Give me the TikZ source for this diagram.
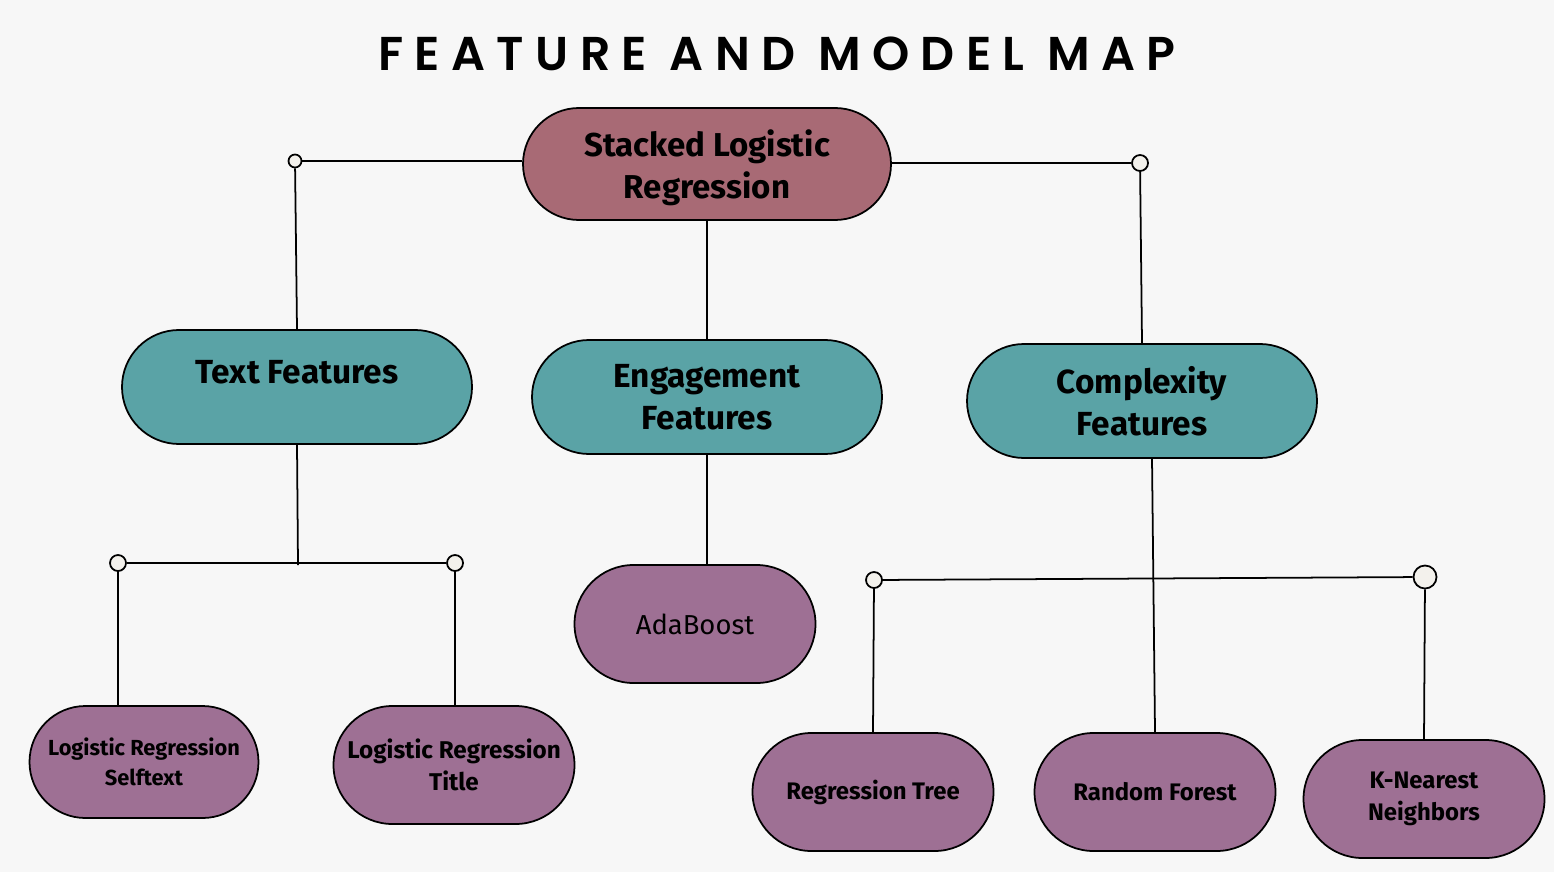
\documentclass[tikz,border=0pt]{standalone}
\usepackage{fontspec}
\setmainfont{Fira Sans}
\newfontfamily\titlefont[LetterSpace=24]{Poppins SemiBold}
\usetikzlibrary{positioning}
\definecolor{cbg}{HTML}{F7F7F7}
\definecolor{crose}{HTML}{A86A75}
\definecolor{cteal}{HTML}{5AA3A6}
\definecolor{cplum}{HTML}{9E7094}
\definecolor{cdot}{HTML}{F3F1EC}
\tikzset{
  every picture/.style={line width=0.5pt},
  pill/.style={draw=black, fill=#1, rounded corners=0.57cm, align=center, inner sep=0pt,
    minimum width=3.5cm, minimum height=1.14cm, font=\fontsize{9.5}{12}\selectfont\bfseries},
  leaf/.style={pill=cplum, rounded corners=0.59cm, minimum width=2.41cm, minimum height=1.18cm,
    font=\fontsize{6.8}{9}\selectfont\bfseries},
  dot/.style={circle, draw=black, fill=cdot, inner sep=0pt, minimum size=#1},
  dot/.default=0.16cm,
  title/.style={font=\titlefont\fontsize{13.5}{16}\selectfont},
}
\begin{document}
\begin{tikzpicture}
  \fill[cbg] (0,0) rectangle (15.54,-8.72);
  \useasboundingbox (0,0) rectangle (15.54,-8.72);
  \node[title] (head) at (7.77,-0.54) {FEATURE AND MODEL MAP};
  % top level
  \node[pill=crose, minimum width=3.68cm, minimum height=1.12cm, rounded corners=0.56cm, text depth=-0.1cm, font=\fontsize{9.4}{12}\selectfont\bfseries] (slr) at (7.07,-1.64) {Stacked Logistic\\Regression};
  \node[pill=cteal, text depth=0.3cm] (text) at (2.97,-3.87) {Text Features};
  \node[pill=cteal] (eng) at (7.07,-3.97) {Engagement\\Features};
  \node[pill=cteal, text depth=-0.08cm] (comp) at (11.42,-4.01) {Complexity\\Features};
  % models
  \node[leaf, minimum width=2.29cm, minimum height=1.12cm, rounded corners=0.56cm, font=\fontsize{6.2}{8.4}\selectfont\bfseries] (lrs) at (1.44,-7.62) {Logistic Regression\\Selftext};
  \node[leaf, font=\fontsize{6.9}{9}\selectfont\bfseries] (lrt) at (4.54,-7.65) {Logistic Regression\\Title};
  \node[leaf, font=\fontsize{7.8}{10}\selectfont] (ada) at (6.95,-6.24) {AdaBoost};
  \node[leaf] (rt) at (8.73,-7.92) {Regression Tree};
  \node[leaf] (rf) at (11.55,-7.92) {Random Forest};
  \node[leaf] (knn) at (14.24,-7.99) {K-Nearest\\Neighbors};
  % junction dots
  \node[dot=0.13cm] (dl) at (2.95,-1.61) {};
  \node[dot] (dr) at (11.40,-1.63) {};
  \node[dot] (dtl) at (1.18,-5.63) {};
  \node[dot] (dtr) at (4.55,-5.63) {};
  \node[dot] (dcl) at (8.74,-5.80) {};
  \node[dot=0.23cm] (dcr) at (14.25,-5.77) {};
  \coordinate (tj) at (2.98,-5.65);
  % connectors
  \draw (dl) -- (dl -| slr.west);
  \draw (dl) -- (text.north);
  \draw (dr) -- (dr -| slr.east);
  \draw (dr) -- (comp.north);
  \draw (slr) -- (eng);
  \draw (text.south) -- (tj);
  \draw (dtl) -- (dtr);
  \draw (dtl) -- (dtl |- lrs.north);
  \draw (dtr) -- (dtr |- lrt.north);
  \draw (eng.south) -- (eng.south |- ada.north);
  \draw ([xshift=1mm]comp.south) -- (rf.north);
  \draw (dcl) -- (dcr);
  \draw (dcl) -- (rt.north);
  \draw (dcr) -- (knn.north);
\end{tikzpicture}
\end{document}
